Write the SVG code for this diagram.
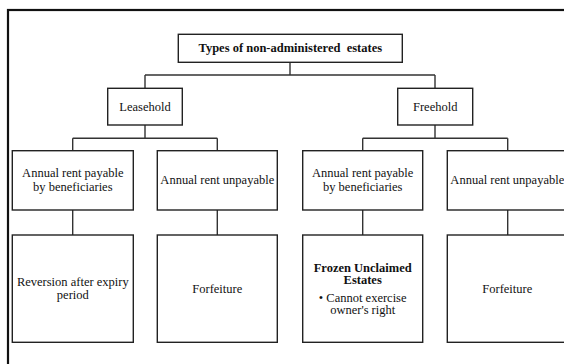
<svg xmlns="http://www.w3.org/2000/svg" width="564" height="364" viewBox="0 0 564 364">
<style>
.bg{fill:#fff}
.frame{fill:none;stroke:#111;stroke-width:2.2}
.box{fill:#fff;stroke:#222;stroke-width:1.4}
.conn{fill:none;stroke:#333;stroke-width:1.4}
.t{font-size:12.5px;fill:#111;text-anchor:middle}
.b{font-weight:bold}
</style>
<rect class="bg" x="0" y="0" width="564" height="364"/>
<rect class="frame" x="8" y="10" width="580" height="380"/>
<g id="connectors">
<path class="conn" d="M290 62.3V75M145 75H435M145 75V88.3M435 75V88.3"/>
<path class="conn" d="M145 125V138.3M72.7 138.3H217.3M72.7 138.3V150.7M217.3 138.3V150.7"/>
<path class="conn" d="M435 125V138.3M362.7 138.3H507.7M362.7 138.3V150.7M507.7 138.3V150.7"/>
<path class="conn" d="M72.7 210V235M217.3 210V235M362.7 210V235M507.7 210V235"/>
</g>
<g font-family="Liberation Serif, DejaVu Serif, serif">
<g id="root"><rect class="box" x="178.3" y="34.3" width="224" height="28"/><text class="t b" x="290.3" y="52" font-size="12.8" xml:space="preserve">Types of non-administered  estates</text></g>
<g id="leasehold"><rect class="box" x="107.7" y="88.3" width="74.6" height="36.7"/><text class="t" x="145" y="110.5">Leasehold</text></g>
<g id="freehold"><rect class="box" x="397.7" y="88.3" width="75" height="36.7"/><text class="t" x="435.2" y="110.5">Freehold</text></g>
<g id="lease-pay"><rect class="box" x="12.3" y="150.7" width="121" height="59.3"/><text class="t" x="72.8" y="177.3">Annual rent payable</text><text class="t" x="72.8" y="190.5">by beneficiaries</text></g>
<g id="lease-unpay"><rect class="box" x="157.3" y="150.7" width="120" height="59.3"/><text class="t" x="217.3" y="184">Annual rent unpayable</text></g>
<g id="free-pay"><rect class="box" x="302.7" y="150.7" width="120" height="59.3"/><text class="t" x="362.7" y="177.3">Annual rent payable</text><text class="t" x="362.7" y="190.5">by beneficiaries</text></g>
<g id="free-unpay"><rect class="box" x="447.3" y="150.7" width="120" height="59.3"/><text class="t" x="507.3" y="184">Annual rent unpayable</text></g>
<g id="reversion"><rect class="box" x="12.3" y="235" width="121" height="107.3"/><text class="t" x="72.8" y="285.7">Reversion after expiry</text><text class="t" x="72.8" y="298.5">period</text></g>
<g id="forfeit1"><rect class="box" x="157.3" y="235" width="120" height="107.3"/><text class="t" x="217.3" y="292.7">Forfeiture</text></g>
<g id="frozen"><rect class="box" x="302.7" y="235" width="120" height="107.3"/><text class="t b" x="362.7" y="271.5">Frozen Unclaimed</text><text class="t b" x="362.7" y="284.3">Estates</text><text class="t" x="362.7" y="301.7">• Cannot exercise</text><text class="t" x="362.7" y="314.2">owner's right</text></g>
<g id="forfeit2"><rect class="box" x="447.3" y="235" width="120" height="107.3"/><text class="t" x="507.3" y="292.7">Forfeiture</text></g>
</g>
</svg>
